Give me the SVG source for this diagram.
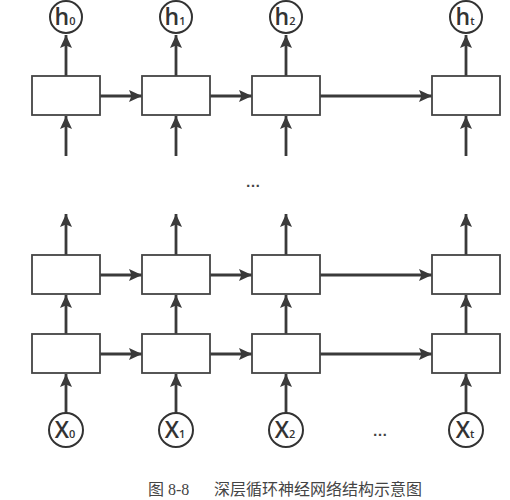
<svg xmlns="http://www.w3.org/2000/svg" width="510" height="500" viewBox="0 0 510 500">
<defs>
<marker id="ah" markerUnits="userSpaceOnUse" markerWidth="13" markerHeight="13" viewBox="0 0 13 13" refX="13" refY="6.5" orient="auto">
<path d="M0,0.5 L13,6.5 L0,12.5 L2.5,6.5 Z" fill="#3a3a3a"/>
</marker>
</defs>
<style>
.box{fill:#fff;stroke:#444;stroke-width:1.8}
.circ{fill:#fff;stroke:#333;stroke-width:2}
.edge{stroke:#3a3a3a;stroke-width:2.8;fill:none;marker-end:url(#ah)}
.lbl{font-family:"Open Sans","DejaVu Sans",sans-serif;font-size:23px;font-weight:600;fill:#333;text-anchor:middle}
.sub{font-size:11px}
.dots{font-family:"Liberation Sans",sans-serif;font-size:15px;font-weight:bold;fill:#444;text-anchor:middle}
.cap{font-family:"Liberation Serif","Noto Sans CJK SC",serif;font-size:16px;fill:#444}
</style>
<rect width="510" height="500" fill="#fff"/>
<g id="connectors">
<line class="edge" x1="66" y1="76" x2="66" y2="35"/>
<line class="edge" x1="176" y1="76" x2="176" y2="35"/>
<line class="edge" x1="286" y1="76" x2="286" y2="35"/>
<line class="edge" x1="466" y1="76" x2="466" y2="35"/>
<line class="edge" x1="66" y1="156" x2="66" y2="116"/>
<line class="edge" x1="176" y1="156" x2="176" y2="116"/>
<line class="edge" x1="286" y1="156" x2="286" y2="116"/>
<line class="edge" x1="466" y1="156" x2="466" y2="116"/>
<line class="edge" x1="100" y1="96" x2="142" y2="96"/>
<line class="edge" x1="210" y1="96" x2="252" y2="96"/>
<line class="edge" x1="320" y1="96" x2="432" y2="96"/>
<line class="edge" x1="66" y1="255" x2="66" y2="214"/>
<line class="edge" x1="176" y1="255" x2="176" y2="214"/>
<line class="edge" x1="286" y1="255" x2="286" y2="214"/>
<line class="edge" x1="466" y1="255" x2="466" y2="214"/>
<line class="edge" x1="66" y1="334" x2="66" y2="295"/>
<line class="edge" x1="176" y1="334" x2="176" y2="295"/>
<line class="edge" x1="286" y1="334" x2="286" y2="295"/>
<line class="edge" x1="466" y1="334" x2="466" y2="295"/>
<line class="edge" x1="100" y1="275" x2="142" y2="275"/>
<line class="edge" x1="210" y1="275" x2="252" y2="275"/>
<line class="edge" x1="320" y1="275" x2="432" y2="275"/>
<line class="edge" x1="100" y1="354" x2="142" y2="354"/>
<line class="edge" x1="210" y1="354" x2="252" y2="354"/>
<line class="edge" x1="320" y1="354" x2="432" y2="354"/>
<line class="edge" x1="66" y1="413" x2="66" y2="374"/>
<line class="edge" x1="176" y1="413" x2="176" y2="374"/>
<line class="edge" x1="286" y1="413" x2="286" y2="374"/>
<line class="edge" x1="466" y1="413" x2="466" y2="374"/>
</g>
<g id="top0"><rect class="box" x="32" y="76" width="68" height="39"/></g>
<g id="top1"><rect class="box" x="142" y="76" width="68" height="39"/></g>
<g id="top2"><rect class="box" x="252" y="76" width="68" height="39"/></g>
<g id="topt"><rect class="box" x="432" y="76" width="68" height="39"/></g>
<g id="mid0"><rect class="box" x="32" y="255" width="68" height="39"/></g>
<g id="mid1"><rect class="box" x="142" y="255" width="68" height="39"/></g>
<g id="mid2"><rect class="box" x="252" y="255" width="68" height="39"/></g>
<g id="midt"><rect class="box" x="432" y="255" width="68" height="39"/></g>
<g id="bot0"><rect class="box" x="32" y="334" width="68" height="39"/></g>
<g id="bot1"><rect class="box" x="142" y="334" width="68" height="39"/></g>
<g id="bot2"><rect class="box" x="252" y="334" width="68" height="39"/></g>
<g id="bott"><rect class="box" x="432" y="334" width="68" height="39"/></g>
<g id="h0"><circle class="circ" cx="66" cy="17" r="16"/><text class="lbl" x="65" y="25">h<tspan class="sub">0</tspan></text></g>
<g id="h1"><circle class="circ" cx="176" cy="17" r="16"/><text class="lbl" x="175" y="25">h<tspan class="sub">1</tspan></text></g>
<g id="h2"><circle class="circ" cx="286" cy="17" r="16"/><text class="lbl" x="285" y="25">h<tspan class="sub">2</tspan></text></g>
<g id="ht"><circle class="circ" cx="466" cy="17" r="16"/><text class="lbl" x="465" y="25">h<tspan class="sub">t</tspan></text></g>
<g id="x0"><circle class="circ" cx="66" cy="430" r="17"/><text class="lbl" x="65" y="438">X<tspan class="sub">0</tspan></text></g>
<g id="x1"><circle class="circ" cx="176" cy="430" r="17"/><text class="lbl" x="175" y="438">X<tspan class="sub">1</tspan></text></g>
<g id="x2"><circle class="circ" cx="286" cy="430" r="17"/><text class="lbl" x="285" y="438">X<tspan class="sub">2</tspan></text></g>
<g id="xt"><circle class="circ" cx="466" cy="430" r="17"/><text class="lbl" x="465" y="438">X<tspan class="sub">t</tspan></text></g>
<text class="dots" x="253" y="187">…</text>
<text class="dots" x="380" y="436">…</text>
<text class="cap" x="148" y="495">图 8-8</text>
<text class="cap" x="214" y="495" font-family="'Noto Sans CJK SC',sans-serif">深层循环神经网络结构示意图</text>
</svg>
